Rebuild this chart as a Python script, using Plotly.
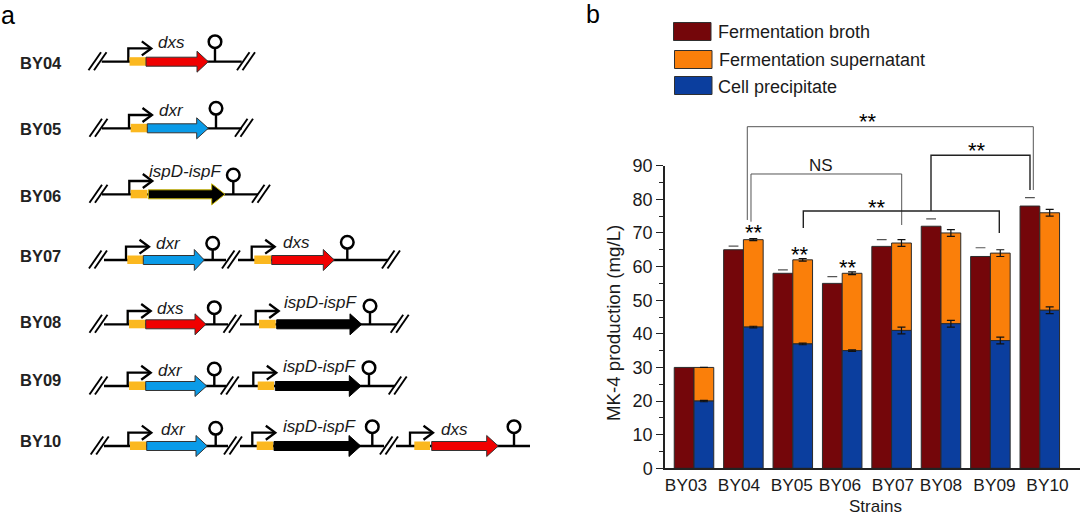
import plotly.graph_objects as go

W, H = 1080, 515

# ---------- chart data ----------
strains = ["BY03", "BY04", "BY05", "BY06", "BY07", "BY08", "BY09", "BY10"]
broth = [30, 65, 58, 55, 66, 72, 63, 78]
broth_dash = [None, 66.1, 59, 57, 68, 74.2, 65.6, 80.5]
pellet = [20, 42, 37, 35, 41, 43, 38, 47]
pellet_err = [0.2, 0.25, 0.25, 0.2, 1, 1, 1, 1]
supernatant = [10, 26, 25, 23, 26, 27, 26, 29]
supernatant_err = [0, 0.3, 0.4, 0.4, 1, 1, 1, 1]
tick_label_px = [686, 739, 791.8, 840, 893, 941, 994.5, 1047.5]

C_BROTH, C_SUP, C_CELL = "#74060a", "#fa7f0a", "#0b3e9e"
C_RED, C_BLUE, C_YEL = "#f00000", "#0a9be8", "#fbb81f"
FONT = "Liberation Sans, Arial, sans-serif"
INK = "#1a1a1a"

AX_L, AX_B, AX_T = 665.0, 468.3, 165.7
G0, GSTEP = 694.0, 49.4
BW = 0.4


def X(px):
    return px / W


def Y(py):
    return 1 - py / H


shapes, annotations = [], []


def text(x, y, s, size=17, color=INK, anchor="center", angle=0):
    annotations.append(dict(x=X(x), y=Y(y), xref="paper", yref="paper", text=s, showarrow=False,
                            xanchor=anchor, yanchor="middle", textangle=angle,
                            font=dict(family=FONT, size=size, color=color)))


def poly(points, color="black", width=2.3, fill=None, close=False):
    d = "M " + " L ".join(f"{X(a):.5f} {Y(b):.5f}" for a, b in points) + (" Z" if close else "")
    s = dict(type="path", path=d, xref="paper", yref="paper", layer="above",
             line=dict(color=color, width=width))
    if fill:
        s["fillcolor"] = fill
    shapes.append(s)


def slash(x, y):
    poly([(x, y + 8.5), (x + 12.5, y - 9.5)], width=1.9)
    poly([(x + 5.5, y + 8.5), (x + 18, y - 9.5)], width=1.9)


def cassette(p, y, gene, c, yel, body, tip, term, term_y, lx, ly, edge="#333333"):
    top = y - 13.3
    poly([(p, y), (p, top), (p + 22.5, top)], width=2.3)
    poly([(p + 13.5, top - 7), (p + 23, top), (p + 13.5, top + 7)], width=2.3)
    poly([(yel[0], y - 4.5), (yel[1], y - 4.5), (yel[1], y + 4), (yel[0], y + 4)], color=C_YEL, width=0, fill=C_YEL, close=True)
    b0, b1 = body
    poly([(b0, y - 4.5), (b1, y - 4.5), (b1, y - 10.5), (tip, y), (b1, y + 10.5), (b1, y + 4.5), (b0, y + 4.5)],
         color=edge, width=1, fill=c, close=True)
    poly([(term, y), (term, term_y + 6)], width=2.4)
    r = 6.3
    shapes.append(dict(type="circle", xref="paper", yref="paper", layer="above",
                       x0=X(term - r), x1=X(term + r), y0=Y(term_y + r), y1=Y(term_y - r),
                       fillcolor="white", line=dict(color="black", width=2.5)))
    annotations.append(dict(x=X(lx), y=Y(ly), xref="paper", yref="paper", text=f"<i>{gene}</i>", showarrow=False,
                            xanchor="center", yanchor="middle", font=dict(family=FONT, size=17, color=INK)))


def row(name, ny, y, line_runs, slashes):
    text(17.5, ny, f"<b>{name}</b>", size=16.5, color="#222222", anchor="left")
    for a, b in line_runs:
        poly([(a, y), (b, y)], width=2.3)
    for s in slashes:
        slash(s, y)


# ---------- panel a: constructs ----------
row("BY04", 62.7, 61.7, [(101.7, 241.7)], [88.5, 237])
cassette(128.3, 61.7, "dxs", C_RED, (129.5, 146), (146, 197), 208.3, 215, 41.7, 171.7, 42.7)

row("BY05", 129, 128.3, [(102, 242)], [89.5, 235])
cassette(129, 128.3, "dxr", C_BLUE, (130.7, 147.3), (147.3, 196.7), 208.3, 216, 108.3, 171.7, 110)

row("BY06", 196, 194.3, [(102, 258)], [89.5, 252])
cassette(129.3, 194.3, "ispD-ispF", "black", (130.7, 147.3), (148.3, 211.7), 225, 233.3, 175, 185.7, 171.7, edge="#c8b400")

row("BY07", 256, 260, [(104, 226), (238, 388)], [89, 222, 382])
cassette(126, 260, "dxr", C_BLUE, (127.3, 143.3), (143.3, 194.3), 204.3, 212.7, 243.3, 168.3, 243.3)
cassette(251.7, 260, "dxs", C_RED, (254.3, 271), (271.7, 323.3), 334.3, 347.3, 242.3, 296, 242.3)

row("BY08", 322, 324.3, [(104, 228), (240, 396.7)], [89.5, 223.5, 390.7])
cassette(127.7, 324.3, "dxs", C_RED, (129, 145.7), (145.7, 195), 206, 214.3, 307.7, 170.7, 308.3)
cassette(255.7, 324.3, "ispD-ispF", "black", (259, 275.7), (276.7, 350), 361.7, 370, 306, 320.3, 302.3, edge="black")

row("BY09", 380, 386, [(104, 226), (238, 395)], [89.5, 220.7, 388.7])
cassette(127.7, 386, "dxr", C_BLUE, (129, 145.7), (145.7, 195), 206.7, 214.3, 369, 170, 370)
cassette(253.3, 386, "ispD-ispF", "black", (257.7, 274), (275.3, 349.3), 361, 369, 367.7, 319.3, 366.7, edge="black")

row("BY10", 441, 446, [(104, 228), (240, 384), (396, 530)], [90.7, 224, 380])
cassette(128.3, 446, "dxr", C_BLUE, (130, 146.7), (146.7, 196), 207.3, 215.7, 428.3, 173.3, 429)
cassette(252.3, 446, "ispD-ispF", "black", (256.7, 273.3), (274, 349), 360.7, 372.3, 426.7, 319.3, 426.7, edge="black")
cassette(410, 446, "dxs", C_RED, (414.3, 430), (431.7, 486.7), 498.3, 514, 426.7, 454, 429)

text(8, 15, "a", size=25, color="black")
text(593, 14, "b", size=25, color="black")

# ---------- panel b: legend ----------
for (yc, col, label, lx, sx) in [(31.5, C_BROTH, "Fermentation broth", 715.5, 673.5),
                                 (59.5, C_SUP, "Fermentation supernatant", 717, 674.5),
                                 (85.5, C_CELL, "Cell precipitate", 716, 674.5)]:
    shapes.append(dict(type="rect", xref="paper", yref="paper", x0=X(sx), x1=X(sx + 37.5), y0=Y(yc + 9), y1=Y(yc - 9),
                       fillcolor=col, line=dict(color="#303030", width=1)))
    text(lx, yc + 1, label, size=18, anchor="left")

# ---------- panel b: brackets ----------
GR = "#555555"
poly([(747.3, 220), (747.3, 126.7), (1033.3, 126.7), (1033.3, 190)], color=GR, width=1)
poly([(751, 221.7), (751, 174), (901.7, 174), (901.7, 225)], color=GR, width=1)
poly([(803.3, 228), (803.3, 211), (999.3, 211), (999.3, 233)], color="#222222", width=1.4)
poly([(931, 211), (931, 155.3), (1030, 155.3), (1030, 190)], color="#222222", width=1.4)
text(821, 165, "NS", size=17)
for sx, sy in [(868, 122), (977, 150), (877, 207), (754, 232), (800, 254), (848, 267)]:
    text(sx, sy, "**", size=22, color="black")

text(613, 323, "MK-4 production (mg/L)", size=18.7, angle=-90)
text(875, 506.5, "Strains", size=17)

# ---------- panel b: bars ----------
idx = list(range(len(strains)))
bar_line = dict(color="#2b2b2b", width=1)
err = dict(type="data", color="#111111", thickness=1.2, width=4)

fig = go.Figure()
fig.add_bar(x=idx, y=broth, name="Fermentation broth", width=BW, offset=-BW,
            marker=dict(color=C_BROTH, line=bar_line))
fig.add_bar(x=idx, y=supernatant, base=pellet, name="Fermentation supernatant", width=BW, offset=0,
            marker=dict(color=C_SUP, line=bar_line),
            error_y=dict(array=supernatant_err, **err))
fig.add_bar(x=idx, y=pellet, name="Cell precipitate", width=BW, offset=0,
            marker=dict(color=C_CELL, line=bar_line),
            error_y=dict(array=pellet_err, **err))
fig.add_scatter(x=[i - BW / 2 for i in idx], y=broth_dash, mode="markers", showlegend=False, hoverinfo="skip",
                marker=dict(symbol="line-ew-open", size=7, color="#555555", line=dict(color="#555555", width=1.2)))

fig.update_layout(
    width=W, height=H, margin=dict(l=0, r=0, t=0, b=0, autoexpand=False),
    paper_bgcolor="white", plot_bgcolor="white", barmode="overlay", showlegend=False,
    shapes=shapes, annotations=annotations, font=dict(family=FONT, color=INK),
    xaxis=dict(domain=[X(AX_L), 1], range=[(AX_L - G0) / GSTEP, (W - G0) / GSTEP],
               tickmode="array", tickvals=[(p - G0) / GSTEP for p in tick_label_px], ticktext=strains,
               ticks="", showgrid=False, zeroline=False, showline=True, linecolor="#222222", linewidth=1.5,
               tickfont=dict(size=17.3), ticklabelstandoff=0),
    yaxis=dict(domain=[Y(AX_B), Y(AX_T)], range=[0, 90], dtick=10, ticks="outside", ticklen=7, tickwidth=1.3,
               tickcolor="#222222", showgrid=False, zeroline=False, showline=True, linecolor="#222222", linewidth=1.5,
               tickfont=dict(size=18), ticklabelstandoff=0,
               minor=dict(dtick=5, ticks="outside", ticklen=4, tickwidth=1.1, tickcolor="#222222", showgrid=False)),
)

fig.write_html("out.html", config=dict(displayModeBar=False),
               post_script="document.body.style.margin='0';document.body.style.overflow='hidden';")
